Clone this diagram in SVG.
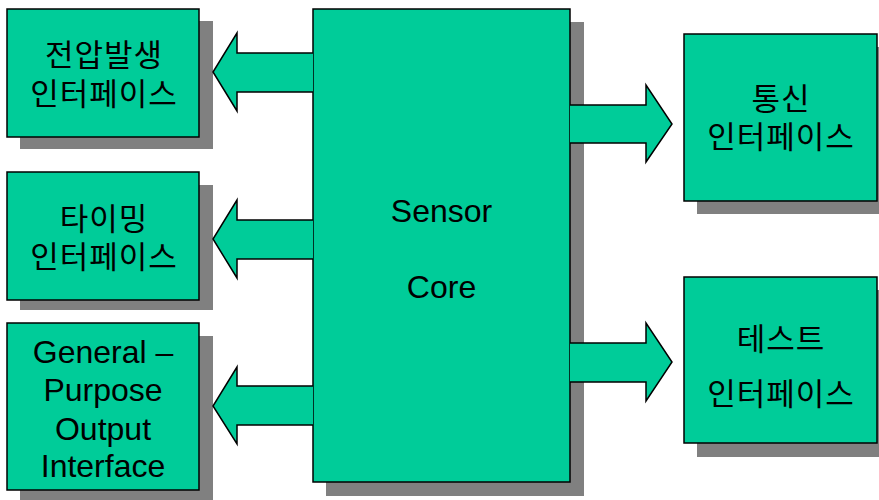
<svg xmlns="http://www.w3.org/2000/svg" width="879" height="500" viewBox="0 0 879 500">
<style>
.box{fill:#00CC99;stroke:#000;stroke-width:1.5}
.sh{fill:#808080}
.arr{fill:#00CC99;stroke:#000;stroke-width:1.5;stroke-linejoin:miter}
.ko{font-family:"Liberation Sans","Noto Sans CJK KR",sans-serif;font-size:31px;letter-spacing:1px;fill:#000;text-anchor:middle}
.en{font-family:"Liberation Sans",Arial,sans-serif;font-size:32px;fill:#000;text-anchor:middle}
</style>
<rect width="879" height="500" fill="#fff"/>
<g id="shadows">
<rect class="sh" x="20" y="21" width="193" height="128"/>
<rect class="sh" x="20" y="185" width="193" height="125"/>
<rect class="sh" x="20" y="336" width="193" height="164"/>
<rect class="sh" x="326" y="22" width="258" height="474"/>
<rect class="sh" x="697" y="47" width="193" height="167"/>
<rect class="sh" x="697" y="290" width="193" height="167"/>
</g>
<g id="core">
<rect class="box" x="313" y="9" width="257" height="473"/>
<text class="en" x="441.5" y="222">Sensor</text>
<text class="en" x="441.5" y="298">Core</text>
</g>
<g id="connectors">
<path class="arr" d="M313,53 H237 V33 L213,72 L237,111 V92 H313"/>
<path class="arr" d="M313,220 H237 V200 L213,239 L237,278 V259 H313"/>
<path class="arr" d="M313,386 H237 V367 L213,406 L237,444 V425 H313"/>
<path class="arr" d="M570,105 H646 V85 L672,124 L646,162 V143 H570"/>
<path class="arr" d="M570,343 H646 V323 L672,362 L646,401 V382 H570"/>
</g>
<g id="voltage">
<rect class="box" x="7" y="9" width="192" height="128"/>
<text class="ko"><tspan x="104" y="66">전압발생</tspan><tspan x="104" y="105">인터페이스</tspan></text>
</g>
<g id="timing">
<rect class="box" x="7" y="172" width="192" height="128"/>
<text class="ko"><tspan x="104" y="230">타이밍</tspan><tspan x="104" y="268">인터페이스</tspan></text>
</g>
<g id="gpo">
<rect class="box" x="7" y="323" width="192" height="167"/>
<text class="en"><tspan x="103" y="363">General –</tspan><tspan x="103" y="401">Purpose</tspan><tspan x="103" y="440">Output</tspan><tspan x="103" y="477">Interface</tspan></text>
</g>
<g id="comm">
<rect class="box" x="684" y="34" width="193" height="167"/>
<text class="ko"><tspan x="781" y="110">통신</tspan><tspan x="781" y="148">인터페이스</tspan></text>
</g>
<g id="test">
<rect class="box" x="684" y="277" width="193" height="166"/>
<text class="ko"><tspan x="781" y="350">테스트</tspan><tspan x="781" y="405">인터페이스</tspan></text>
</g>
</svg>
